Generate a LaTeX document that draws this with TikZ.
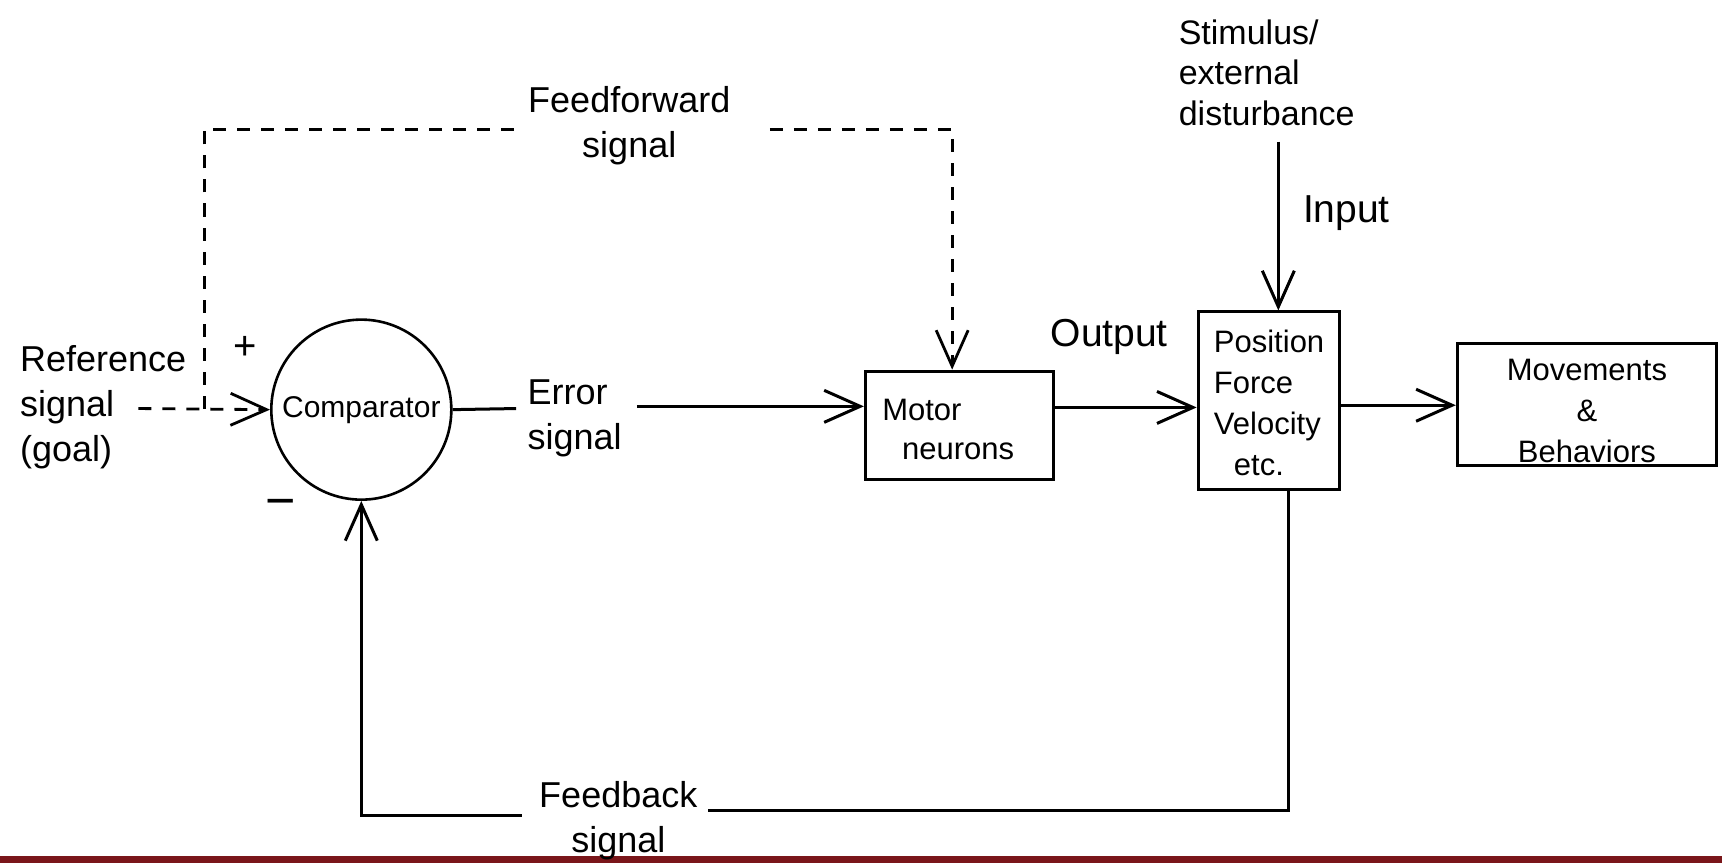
\documentclass[tikz,border=0pt]{standalone}
\usepackage{fontspec}
\setmainfont{Liberation Sans}
\usetikzlibrary{arrows.meta}
\begin{document}
\begin{tikzpicture}[x=0.549pt,y=-0.549pt,
  ln/.style={line width=1.5pt},
  tip/.style={-{Straight Barb[length=18pt,width=16pt]}},
  dsh/.style={line width=1.4pt,dash pattern=on 6.5pt off 5.5pt},
  lbl/.style={font=\fontsize{18}{22.5}\selectfont, inner sep=0pt},
  boxtxt/.style={font=\fontsize{15.5}{20.5}\selectfont, inner sep=0pt},
  blk/.style={draw, line width=1.5pt, inner sep=0pt}]
\useasboundingbox (0,0) rectangle (1568,786);
\fill[white] (0,0) rectangle (1568,786);
\fill[fill={rgb,255:red,122;green,22;blue,26}] (0,779) rectangle (1568,786);

% blocks
\node[draw, circle, line width=1.3pt, minimum size=90pt, inner sep=0pt,
      font=\fontsize{15}{18}\selectfont] (comp) at (329,373) {Comparator};
\node[blk, minimum width=93.9pt, minimum height=54.4pt] (motor) at (873.5,387.5) {};
\node[blk, minimum width=70.8pt, minimum height=88.9pt] (pos) at (1155.5,365) {};
\node[blk, minimum width=129.6pt, minimum height=60.9pt] (mov) at (1445,368.5) {};

% block texts
\node[boxtxt, anchor=west] (mt1) at (803,373) {Motor};
\node[boxtxt, anchor=west] (mt2) at (821,411) {neurons};
\node[boxtxt, anchor=west, align=left] (pt) at (1105,367) {Position\\Force\\Velocity\\\hspace*{10pt}etc.};
\node[boxtxt, align=center] (mvt) at (1445,374) {Movements\\\&\\Behaviors};

% labels
\node[lbl, anchor=west, align=left] (ref) at (18,371) {Reference\\signal\\(goal)};
\node[lbl, font=\fontsize{20}{22}\selectfont] (plus) at (223,317) {+};
\node[lbl, font=\fontsize{26}{28}\selectfont] (minus) at (256,463) {−};
\node[lbl, align=center] (ff) at (573,114) {Feedforward\\signal};
\node[lbl, anchor=west, align=left] (err) at (480,381) {Error\\signal};
\node[lbl, font=\fontsize{19.5}{22}\selectfont] (out) at (1010,307) {Output};
\node[lbl, font=\fontsize{19.5}{22}\selectfont] (inp) at (1226,194) {Input};
\node[lbl, anchor=west, align=left, font=\fontsize{17}{20.3}\selectfont] (stim) at (1073,66) {Stimulus/\\external\\disturbance};
\node[lbl, align=center] (fb) at (563,747) {Feedback\\signal};

% coordinates
\coordinate (refS) at (126,372);
\coordinate (ffA) at (186,372);
\coordinate (ffB) at (186,118);
\coordinate (ffC) at (470,118);
\coordinate (ffD) at (701,118);
\coordinate (ffE) at (867,118);
\coordinate (e1) at (470,372);
\coordinate (e2) at (580,370);
\coordinate (y371) at (0,371);
\coordinate (y369) at (0,369);
\coordinate (inS) at (1164,129);
\coordinate (fbR) at (1173,738);
\coordinate (fbM) at (645,738);
\coordinate (fbL) at (475,743);
\coordinate (fbC) at (329,743);

% connectors
\draw[dsh, tip] (refS) -- (comp.west);
\draw[dsh] (ffA) -- (ffB) -- (ffC);
\draw[dsh, tip] (ffD) -- (ffE) -- (ffE |- motor.north);
\draw[ln] (comp.east) -- (e1);
\draw[ln, tip] (e2) -- (motor.west |- e2);
\draw[ln, tip] (motor.east |- y371) -- (pos.west |- y371);
\draw[ln, tip] (pos.east |- y369) -- (mov.west |- y369);
\draw[ln, tip] (inS) -- (inS |- pos.north);
\draw[ln] (fbR |- pos.south) -- (fbR) -- (fbM);
\draw[ln, tip] (fbL) -- (fbC) -- (comp.south);
\end{tikzpicture}
\end{document}
